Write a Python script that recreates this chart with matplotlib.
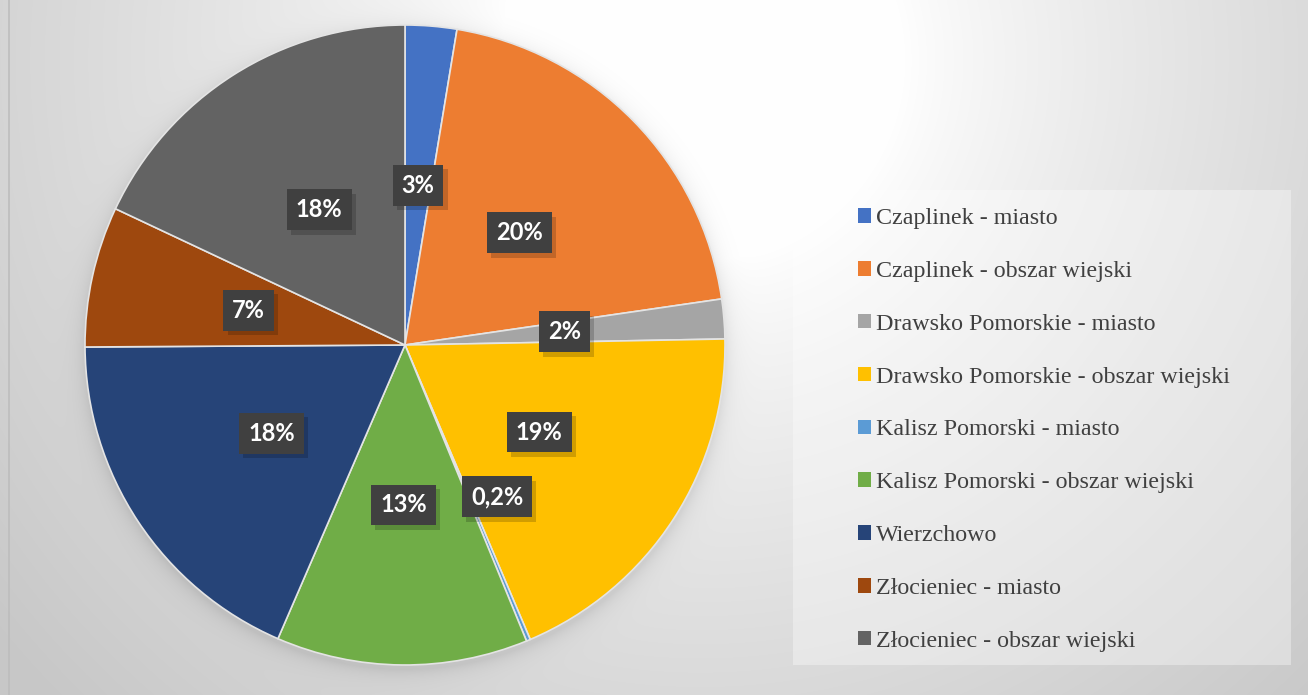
import numpy as np
import matplotlib.pyplot as plt
from matplotlib.patches import Patch, Rectangle
from matplotlib.font_manager import FontProperties
import matplotlib.patheffects as pe

# --------------------------------
# DATA
# --------------------------------

categories = [
    "Czaplinek - miasto",
    "Czaplinek - obszar wiejski",
    "Drawsko Pomorskie - miasto",
    "Drawsko Pomorskie - obszar wiejski",
    "Kalisz Pomorski - miasto",
    "Kalisz Pomorski - obszar wiejski",
    "Wierzchowo",
    "Złocieniec - miasto",
    "Złocieniec - obszar wiejski",
]
shares = [2.6, 20.1, 2.0, 18.9, 0.2, 12.7, 18.4, 7.1, 18.0]
colors = ["#4472C4", "#ED7D31", "#A5A5A5", "#FFC000", "#5B9BD5",
          "#70AD47", "#264478", "#9E480E", "#636363"]

W, H = 1308, 695
DPI = 100

# --------------------------------
# FIGURE + BACKGROUND GRADIENT
# --------------------------------

fig = plt.figure(figsize=(W / DPI, H / DPI), dpi=DPI)

bg = fig.add_axes([0, 0, 1, 1])
bg.set_axis_off()
yy, xx = np.mgrid[0:H, 0:W]
d = np.hypot(xx - 700, yy - 60)
t = np.clip((d - 200) / 700, 0, 1) ** 0.8
v = 255 - 55 * t

# soft shadow under the pie
cx, cy, R = 405, 345, 320
rp = np.hypot(xx - cx, yy - (cy + 4))
shadow = np.where(rp > R - 5, np.exp(-np.clip(rp - R, 0, None) / 9.0), 0)
v = v - 20 * shadow
v = np.clip(v, 0, 255) / 255.0
img = np.dstack([v, v, v])
bg.imshow(img, extent=[0, W, H, 0], aspect="auto", interpolation="bilinear")
bg.set_xlim(0, W)
bg.set_ylim(H, 0)
bg.axvline(8.5, color="#bdbdbd", lw=1.2)

# legend box
bg.add_patch(Rectangle((793, 190), 498, 475, facecolor="white",
                       alpha=0.35, edgecolor="none"))

# --------------------------------
# PIE
# --------------------------------

ax = fig.add_axes([(cx - R) / W, (H - cy - R) / H, 2 * R / W, 2 * R / H])
ax.set_axis_off()
wedges, _ = ax.pie(shares, colors=colors, startangle=90, counterclock=False,
                   radius=1, wedgeprops=dict(edgecolor="#e4e4e4", linewidth=1.2))
ax.set_xlim(-1, 1)
ax.set_ylim(-1, 1)
ax.set_aspect("equal")

# --------------------------------
# DATA LABELS
# --------------------------------

label_font = FontProperties(family="Lato", weight="bold", size=17)
total = sum(shares)
for w, s in zip(wedges, shares):
    pct = s / total * 100
    if pct < 1:
        label = f"{pct:.1f}%".replace(".", ",")
    else:
        label = f"{pct:.0f}%"
    ang = np.radians((w.theta1 + w.theta2) / 2)
    r = 0.5
    if pct < 1:
        ang = np.radians(-58.8)
        r = 0.555
    txt = ax.text(r * np.cos(ang), r * np.sin(ang), label,
                  ha="center", va="center", fontproperties=label_font,
                  color="white",
                  bbox=dict(boxstyle="square,pad=0.38", facecolor="#404040",
                            edgecolor="none", linewidth=0))
    txt.get_bbox_patch().set_path_effects([
        pe.SimplePatchShadow(offset=(3, -3), shadow_rgbFace="#000000", alpha=0.18),
        pe.Normal(),
    ])

# --------------------------------
# LEGEND
# --------------------------------

legend_font = FontProperties(family="Liberation Serif", size=17.3)
handles = [Patch(facecolor=c, edgecolor="none") for c in colors]
leg = fig.legend(handles, categories, loc="upper left",
                 bbox_to_anchor=(858 / W, 1 - 208 / H),
                 frameon=False, prop=legend_font,
                 handlelength=0.55, handleheight=0.55, handletextpad=0.2,
                 labelspacing=1.325, borderpad=0, borderaxespad=0)
for tx in leg.get_texts():
    tx.set_color("#404040")

fig.savefig("out.png", dpi=DPI)
